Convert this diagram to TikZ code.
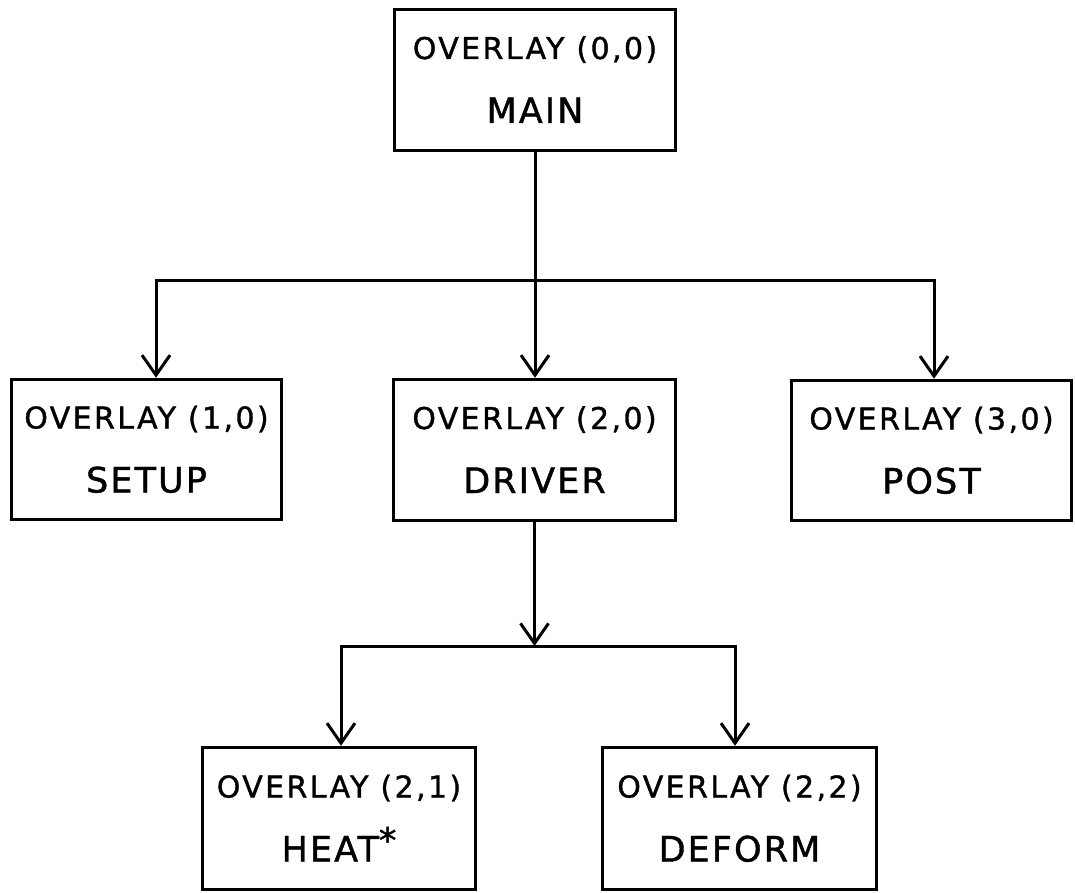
\documentclass[tikz,border=0pt]{standalone}
\usepackage{fontspec}
\setmainfont{DejaVu Sans}
\newfontfamily\lineAfont[LetterSpace=8,FakeBold=1.2]{DejaVu Sans}
\newfontfamily\lineBfont[LetterSpace=6,FakeBold=1.2]{DejaVu Sans}
\usetikzlibrary{arrows.meta}
\tikzset{
  box/.style={draw, line width=3.5pt, inner sep=0pt},
  toptext/.style={font=\lineAfont\fontsize{30}{30}\selectfont, anchor=base, inner sep=0pt},
  bottext/.style={font=\lineBfont\fontsize{35}{35}\selectfont, anchor=base, inner sep=0pt},
  conn/.style={line width=3pt},
  arr/.style={conn, -{Straight Barb[length=20pt,width=28pt,line width=3pt]}}
}
\begin{document}
\begin{tikzpicture}[x=1pt,y=-1pt]
\useasboundingbox (0,0) rectangle (1075,893);
% boxes
\node[box, minimum width=281pt, minimum height=141pt] (main)   at (535,80)     {};
\node[box, minimum width=270pt, minimum height=140pt] (setup)  at (146.5,449.5) {};
\node[box, minimum width=282pt, minimum height=141pt] (driver) at (534.5,450)  {};
\node[box, minimum width=280pt, minimum height=140pt] (post)   at (931.5,450.5) {};
\node[box, minimum width=273pt, minimum height=142pt] (heat)   at (339,818.5)  {};
\node[box, minimum width=274pt, minimum height=142pt] (deform) at (739.5,818.5) {};
% texts
\node[toptext] (mainA)   at ([yshift=21pt]main.center)   {OVERLAY (0,0)};
\node[bottext] (mainB)   at ([yshift=-43pt]main.center)  {MAIN};
\node[toptext] (setupA)  at ([yshift=21pt]setup.center)  {OVERLAY (1,0)};
\node[bottext] (setupB)  at ([yshift=-43pt]setup.center) {SETUP};
\node[toptext] (driverA) at ([yshift=21pt]driver.center) {OVERLAY (2,0)};
\node[bottext] (driverB) at ([yshift=-43pt]driver.center){DRIVER};
\node[toptext] (postA)   at ([yshift=21pt]post.center)   {OVERLAY (3,0)};
\node[bottext] (postB)   at ([yshift=-43pt]post.center)  {POST};
\node[toptext] (heatA)   at ([yshift=21pt]heat.center)   {OVERLAY (2,1)};
\node[bottext] (heatB)   at ([yshift=-43pt]heat.center)  {HEAT\raisebox{0.25em}{*}};
\node[toptext] (deformA) at ([yshift=21pt]deform.center) {OVERLAY (2,2)};
\node[bottext] (deformB) at ([yshift=-43pt]deform.center){DEFORM};
% junction coordinates
\coordinate (hl) at (156,280);
\coordinate (hr) at (934,280);
\coordinate (dl) at (341,646);
\coordinate (dr) at (735,646);
% first level
\draw[conn] (main.south) -- (main.south |- hl);
\draw[conn, line cap=rect] (hl) -- (hr);
\draw[arr] (hl) -- (hl |- setup.north);
\draw[arr] (main.south |- hl) -- (main.south |- driver.north);
\draw[arr] (hr) -- (hr |- post.north);
% second level
\draw[arr] (driver.south) -- (driver.south |- dl);
\draw[conn, line cap=rect] (dl) -- (dr);
\draw[arr] (dl) -- (dl |- heat.north);
\draw[arr] (dr) -- (dr |- deform.north);
\end{tikzpicture}
\end{document}
